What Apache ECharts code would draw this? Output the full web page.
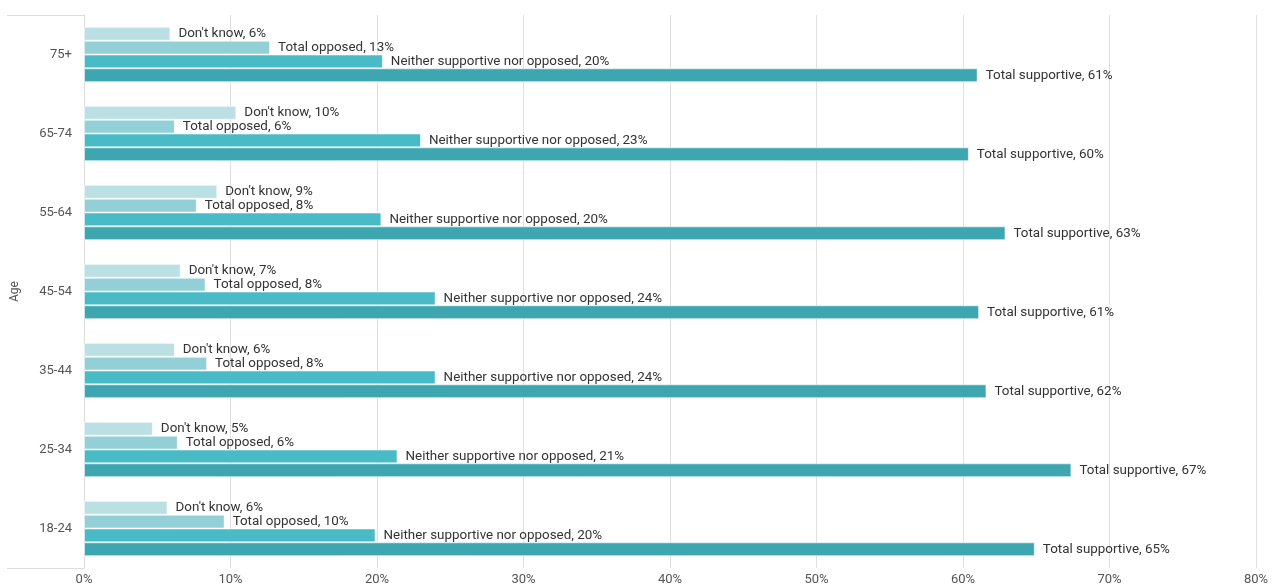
<!DOCTYPE html>
<html>
<head>
<meta charset="utf-8">
<script src="https://cdn.jsdelivr.net/npm/echarts@6/dist/echarts.min.js"></script>
<style>
  html, body { margin: 0; padding: 0; background: #fff; }
  #chart { width: 1274px; height: 588px; }
</style>
</head>
<body>
<div id="chart"></div>
<script>
// Age groups, bottom to top
const ageGroups = ['18-24', '25-34', '35-44', '45-54', '55-64', '65-74', '75+'];

// Share of respondents (%) per age group
const totalSupportive = [64.9, 67.4, 61.6, 61.1, 62.9, 60.4, 61.0];
const neitherSupportiveNorOpposed = [19.9, 21.4, 24.0, 24.0, 20.3, 23.0, 20.4];
const totalOpposed = [9.6, 6.4, 8.4, 8.3, 7.7, 6.2, 12.7];
const dontKnow = [5.7, 4.7, 6.2, 6.6, 9.1, 10.4, 5.9];

const xTicks = [0, 10, 20, 30, 40, 50, 60, 70, 80];

// Listed top to bottom within each age group
const seriesDefs = [
  { name: "Don't know", data: dontKnow, color: '#bbe0e3' },
  { name: 'Total opposed', data: totalOpposed, color: '#93cfd6' },
  { name: 'Neither supportive nor opposed', data: neitherSupportiveNorOpposed, color: '#48bbc6' },
  { name: 'Total supportive', data: totalSupportive, color: '#3ea6b0' }
];

const FONT = 'Roboto, "Noto Sans", sans-serif';

const chart = echarts.init(document.getElementById('chart'), null, { renderer: 'canvas' });

chart.setOption({
  animation: false,
  textStyle: { fontFamily: FONT },
  grid: { left: 84, right: 18, top: 15, bottom: 20, containLabel: false, outerBoundsMode: 'none' },
  xAxis: {
    type: 'value',
    min: xTicks[0],
    max: xTicks[xTicks.length - 1],
    interval: 10,
    axisLine: { show: false },
    axisTick: { show: false },
    splitLine: { show: true, lineStyle: { color: '#e0e0e0', width: 1 } },
    axisLabel: {
      formatter: v => v + '%',
      color: '#555',
      fontSize: 13,
      fontFamily: FONT,
      margin: 5
    }
  },
  yAxis: {
    type: 'category',
    data: ageGroups,
    name: 'Age',
    nameLocation: 'middle',
    nameGap: 63,
    nameRotate: 90,
    nameTextStyle: { color: '#555', fontSize: 12, fontFamily: FONT },
    axisLine: { show: true, lineStyle: { color: '#dcdcdc' } },
    axisTick: { show: false },
    axisLabel: { color: '#555', fontSize: 13, fontFamily: FONT, margin: 12 }
  },
  graphic: [
    { type: 'line', shape: { x1: 7, y1: 15.5, x2: 84, y2: 15.5 }, style: { stroke: '#dcdcdc', lineWidth: 1 } },
    { type: 'line', shape: { x1: 7, y1: 568.5, x2: 84, y2: 568.5 }, style: { stroke: '#dcdcdc', lineWidth: 1 } }
  ],
  series: seriesDefs.map(s => ({
    type: 'bar',
    name: s.name,
    data: s.data,
    barGap: '0%',
    barCategoryGap: '30%',
    itemStyle: { color: s.color, borderColor: 'rgba(255,255,255,0.55)', borderWidth: 1 },
    label: {
      show: true,
      position: 'right',
      distance: 8,
      color: '#333',
      fontSize: 13.4,
      fontFamily: FONT,
      formatter: p => p.seriesName + ', ' + Math.round(p.value) + '%'
    }
  }))
});
</script>
</body>
</html>
